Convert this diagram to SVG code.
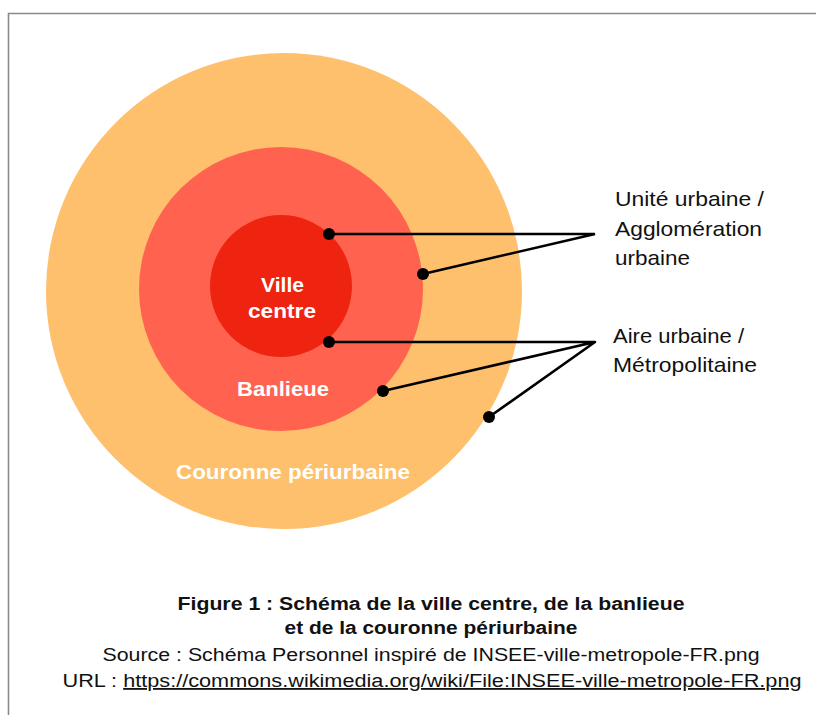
<svg xmlns="http://www.w3.org/2000/svg" width="816" height="715" viewBox="0 0 816 715">
<style>
.frame{fill:none;stroke:#8a8a8a;stroke-width:1.6}
.lbl{font-family:"Liberation Sans",Arial,sans-serif;font-size:21px;fill:#111}
.in{font-family:"Liberation Sans",Arial,sans-serif;font-size:21px;font-weight:bold;fill:#fff;text-anchor:middle}
.cap{font-family:"Liberation Sans",Arial,sans-serif;font-size:18px;fill:#111;text-anchor:middle}
.capb{font-weight:bold}
.ln{stroke:#000;stroke-width:2.6;fill:none;stroke-linecap:round}
.dot{fill:#000}
</style>
<rect width="816" height="715" fill="#fff"/>
<path class="frame" d="M8.5 715 V13.5 H816"/>
<g id="couronne">
<circle cx="284" cy="291" r="238" fill="#FEC06C"/>
<text class="in" x="293" y="479" textLength="234" lengthAdjust="spacingAndGlyphs">Couronne périurbaine</text>
</g>
<g id="banlieue">
<circle cx="281" cy="289" r="142" fill="#FF634F"/>
<text class="in" x="283" y="396" textLength="92" lengthAdjust="spacingAndGlyphs">Banlieue</text>
</g>
<g id="ville-centre">
<circle cx="281" cy="286" r="71" fill="#EE2410"/>
<text class="in" x="282.5" y="292" textLength="43" lengthAdjust="spacingAndGlyphs">Ville</text>
<text class="in" x="282" y="318" textLength="68" lengthAdjust="spacingAndGlyphs">centre</text>
</g>
<g id="unite-urbaine">
<text class="lbl" x="615" y="206" textLength="149" lengthAdjust="spacingAndGlyphs">Unité urbaine /</text>
<text class="lbl" x="615" y="236" textLength="147" lengthAdjust="spacingAndGlyphs">Agglomération</text>
<text class="lbl" x="615" y="265" textLength="75" lengthAdjust="spacingAndGlyphs">urbaine</text>
</g>
<g id="aire-urbaine">
<text class="lbl" x="613" y="343" textLength="131" lengthAdjust="spacingAndGlyphs">Aire urbaine /</text>
<text class="lbl" x="613" y="372" textLength="144" lengthAdjust="spacingAndGlyphs">Métropolitaine</text>
</g>
<g id="connectors">
<path class="ln" d="M329 234 H595 L423 274"/>
<path class="ln" d="M329 342 H595 L383 391 M595 342 L489 417"/>
<circle class="dot" cx="329" cy="234" r="6"/>
<circle class="dot" cx="423" cy="274" r="6"/>
<circle class="dot" cx="329" cy="342" r="6"/>
<circle class="dot" cx="383" cy="391" r="6"/>
<circle class="dot" cx="489" cy="417" r="6"/>
</g>
<g id="caption">
<text class="cap capb" x="431" y="610" textLength="507" lengthAdjust="spacingAndGlyphs">Figure 1 : Schéma de la ville centre, de la banlieue</text>
<text class="cap capb" x="431" y="634" textLength="293" lengthAdjust="spacingAndGlyphs">et de la couronne périurbaine</text>
<text class="cap" x="431" y="661" textLength="657" lengthAdjust="spacingAndGlyphs">Source : Schéma Personnel inspiré de INSEE-ville-metropole-FR.png</text>
<text class="cap" x="432" y="687" textLength="739" lengthAdjust="spacingAndGlyphs">URL : <tspan text-decoration="underline">https://commons.wikimedia.org/wiki/File:INSEE-ville-metropole-FR.png</tspan></text>
</g>
</svg>
